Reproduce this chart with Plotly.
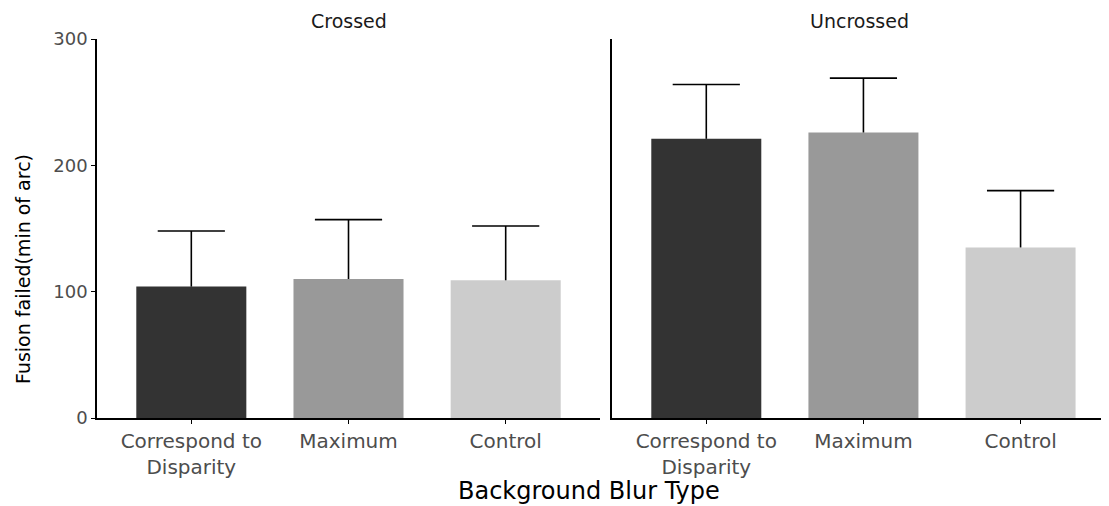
import plotly.graph_objects as go

categories = ["Correspond to<br>Disparity", "Maximum", "Control"]
bar_colors = ["#333333", "#999999", "#cccccc"]
panels = ["Crossed", "Uncrossed"]
crossed_mean = [104, 110, 109]
crossed_err = [44, 47, 43]
uncrossed_mean = [221, 226, 135]
uncrossed_err = [43, 43, 45]
y_ticks = [0, 100, 200, 300]

# page has an 8px body margin, so the figure is drawn 8px smaller and offset
OFF = 8
W, H = 1109 - OFF, 506 - OFF
L, R, T, B = 97 - OFF, 2, 39 - OFF, 88
plot_w = W - L - R
plot_h = H - T - B


def px(x_page):
    return (x_page - 97) / plot_w


dom1 = [px(97), px(600)]
dom2 = [px(612), px(1107)]
font = "DejaVu Sans"

fig = go.Figure()
for xa, (means, errs) in zip(["x", "x2"], [(crossed_mean, crossed_err), (uncrossed_mean, uncrossed_err)]):
    fig.add_trace(go.Bar(
        x=categories, y=means, xaxis=xa, yaxis="y" if xa == "x" else "y2",
        marker=dict(color=bar_colors, line=dict(width=0)),
        width=0.7,
        error_y=dict(type="data", array=errs, arrayminus=[0] * len(errs), symmetric=False,
                     color="black", thickness=1.6, width=0),
        showlegend=False, hoverinfo="skip",
    ))
    tops = [m + e for m, e in zip(means, errs)]
    fig.add_trace(go.Scatter(
        x=categories, y=tops, mode="markers", xaxis=xa, yaxis="y" if xa == "x" else "y2",
        marker=dict(symbol="line-ew", size=48, line=dict(color="black", width=1.6)),
        showlegend=False, hoverinfo="skip", cliponaxis=False,
    ))

xcommon = dict(showline=True, linecolor="black", linewidth=1.6,
               ticks="outside", ticklen=4, tickwidth=1.4, tickcolor="black",
               tickfont=dict(family=font, size=20, color="#4d4d4d"), showgrid=False, zeroline=False)
fig.update_layout(
    xaxis=dict(domain=dom1, range=[-0.6, 2.6], anchor="y", **xcommon),
    xaxis2=dict(domain=dom2, range=[-0.6, 2.55], anchor="y2", **xcommon),
    yaxis=dict(range=[0, 300], tickvals=y_ticks, showline=True, linecolor="black", linewidth=1.6,
               ticks="outside", ticklen=4, tickwidth=1.4, tickcolor="black", anchor="x",
               tickfont=dict(family=font, size=18, color="#4d4d4d"), showgrid=False, zeroline=False),
    yaxis2=dict(range=[0, 300], showline=True, linecolor="black", linewidth=1.6, anchor="x2",
                showticklabels=False, ticks="", showgrid=False, zeroline=False),
)

# facet titles
for name, d in zip(panels, [dom1, dom2]):
    fig.add_annotation(x=(d[0] + d[1]) / 2, y=1, xref="paper", yref="paper", xanchor="center",
                       yanchor="middle", yshift=18,
                       text=name, showarrow=False, font=dict(family=font, size=19, color="#1a1a1a"))

# axis titles
fig.add_annotation(x=px(589), y=0, xref="paper", yref="paper", xanchor="center", yanchor="middle", yshift=-73,
                   text="Background Blur Type", showarrow=False, font=dict(family=font, size=24, color="black"))
fig.add_annotation(x=0, y=(418 - 269) / plot_h, xref="paper", yref="paper", xanchor="center", yanchor="middle",
                   xshift=-74, textangle=-90, text="Fusion failed(min of arc)", showarrow=False,
                   font=dict(family=font, size=19, color="black"))

fig.update_layout(width=W, height=H, margin=dict(l=L, r=R, t=T, b=B),
                  plot_bgcolor="white", paper_bgcolor="white")

fig.write_html("out.html")
